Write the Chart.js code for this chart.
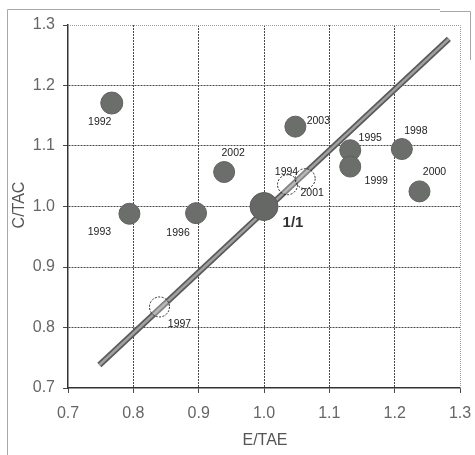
<!DOCTYPE html>
<html>
<head>
<meta charset="utf-8">
<script src="https://cdn.jsdelivr.net/npm/chart.js@4.4.1/dist/chart.umd.min.js"></script>
<style>
html,body{margin:0;padding:0;background:#fff;}
#wrap{position:relative;width:475px;height:455px;}
</style>
</head>
<body>
<div id="wrap"><canvas id="c" width="475" height="455"></canvas></div>
<script>
// ---- data ----
const yearLabels = ['1992','1993','1996','2002','2003','1995','1999','1998','2000'];
const eTae       = [0.767, 0.794, 0.896, 0.939, 1.048, 1.132, 1.132, 1.211, 1.238];
const cTac       = [1.171, 0.988, 0.989, 1.057, 1.132, 1.093, 1.066, 1.095, 1.025];

const openLabels = ['1994','2001','1997'];
const openE      = [1.036, 1.063, 0.840];
const openC      = [1.036, 1.046, 0.834];

const refLabel = '1/1';
const refE = [1.0];
const refC = [1.0];

const lineE = [0.748, 1.283];
const lineC = [0.738, 1.277];

const tickValues = [0.7, 0.8, 0.9, 1.0, 1.1, 1.2, 1.3];
const xTitle = 'E/TAE';
const yTitle = 'C/TAC';

// ---- label placement (pixels, relative to point) ----
const yearOffsets = [[-12,19],[-30,18],[-18,20],[9,-19],[23,-6],[20,-12],[26,15],[14,-18],[15,-19]];
const openOffsets = [[-1,-13],[7,14],[20,17]];
const refOffset = [29,16];

const toPts = (xs, ys) => xs.map((x,i)=>({x:x, y:ys[i]}));

const FONT = "'Liberation Sans', Arial, sans-serif";

const overlay = {
  id:'overlay',
  beforeDraw(chart){
    const ctx = chart.ctx;
    ctx.save();
    ctx.strokeStyle = '#a8a8a8';
    ctx.lineWidth = 1;
    ctx.beginPath();
    ctx.moveTo(7.5, 455); ctx.lineTo(7.5, 9.5); ctx.lineTo(440, 9.5);
    ctx.moveTo(440, 11.5); ctx.lineTo(470.5, 11.5); ctx.lineTo(470.5, 60);
    ctx.stroke();
    ctx.restore();
  },
  afterDatasetsDraw(chart){
    const ctx = chart.ctx;
    const a = chart.chartArea;
    ctx.save();
    // right/top dotted plot border
    ctx.strokeStyle = '#9a9a9a';
    ctx.setLineDash([1,1]);
    ctx.lineWidth = 1;
    ctx.beginPath();
    ctx.moveTo(a.left, a.top+0.5); ctx.lineTo(a.right+0.5, a.top+0.5); ctx.lineTo(a.right+0.5, a.bottom);
    ctx.stroke();
    // open rings
    const om = chart.getDatasetMeta(3);
    ctx.setLineDash([2,1.5]);
    ctx.strokeStyle = '#222';
    ctx.lineWidth = 1;
    om.data.forEach(el=>{
      ctx.beginPath();
      ctx.arc(el.x, el.y, 10, 0, Math.PI*2);
      ctx.fillStyle = 'rgba(255,255,255,0.25)';
      ctx.fill();
      ctx.stroke();
    });
    ctx.setLineDash([]);
    // labels
    ctx.fillStyle = '#222';
    ctx.textAlign = 'center';
    ctx.textBaseline = 'middle';
    ctx.font = '10.5px ' + FONT;
    chart.getDatasetMeta(2).data.forEach((el,i)=>{
      ctx.fillText(yearLabels[i], el.x + yearOffsets[i][0], el.y + yearOffsets[i][1]);
    });
    om.data.forEach((el,i)=>{
      ctx.fillText(openLabels[i], el.x + openOffsets[i][0], el.y + openOffsets[i][1]);
    });
    const rm = chart.getDatasetMeta(4).data[0];
    ctx.font = 'bold 15px ' + FONT;
    ctx.fillStyle = '#333';
    ctx.fillText(refLabel, rm.x + refOffset[0], rm.y + refOffset[1]);
    // axis titles
    ctx.font = '16px ' + FONT;
    ctx.fillStyle = '#555';
    ctx.fillText(xTitle, 265, 441);
    ctx.save();
    ctx.translate(20, 205);
    ctx.rotate(-Math.PI/2);
    ctx.fillText(yTitle, 0, 0);
    ctx.restore();
    ctx.restore();
  }
};

const gridColor = (ctx) => {
  const v = ctx.tick ? ctx.tick.value : null;
  if (v !== null && (Math.abs(v-0.7)<1e-6 || Math.abs(v-1.3)<1e-6)) return 'rgba(0,0,0,0)';
  return '#4a4a4a';
};

new Chart(document.getElementById('c'), {
  type:'scatter',
  data:{
    datasets:[
      { type:'line', data: toPts(lineE, lineC), borderColor:'#5a5a5a', borderWidth:6, pointRadius:0, order:5, borderCapStyle:'butt' },
      { type:'line', data: toPts(lineE, lineC), borderColor:'#a0a0a0', borderWidth:2.5, pointRadius:0, order:4, borderCapStyle:'butt' },
      { data: toPts(eTae, cTac), pointRadius:[11,10.5,10.5,10.5,10.5,10.5,10.5,10.5,10.5], backgroundColor:'#6b6e6b', borderColor:'#5f625f', borderWidth:1, order:2 },
      { data: toPts(openE, openC), pointRadius:0, order:1 },
      { data: toPts(refE, refC), pointRadius:14, backgroundColor:'#656865', borderColor:'#5a5d5a', borderWidth:1, order:1 }
    ]
  },
  options:{
    responsive:false,
    animation:false,
    events:[],
    layout:{ padding:{ top:25, right:12, left:0, bottom:0 } },
    plugins:{ legend:{display:false}, tooltip:{enabled:false} },
    scales:{
      x:{
        type:'linear', min:0.7, max:1.3,
        afterBuildTicks(s){ s.ticks = tickValues.map(v=>({value:v})); },
        afterFit(s){ s.height = 67; s.paddingRight = 0; s.paddingLeft = 0; },
        grid:{ color: gridColor, tickLength:5, tickColor:'#4a4a4a', lineWidth:1 },
        border:{ display:true, color:'#333', dash:[2,1], width:1.5 },
        ticks:{ padding:11, color:'#666', font:{ family:FONT, size:16 }, maxRotation:0,
                callback:(v)=>Number(v).toFixed(1) }
      },
      y:{
        type:'linear', min:0.7, max:1.3,
        afterBuildTicks(s){ s.ticks = tickValues.map(v=>({value:v})); },
        afterFit(s){ s.width = 68; s.paddingTop = 0; s.paddingBottom = 0; },
        grid:{ color: gridColor, tickLength:5, tickColor:'#4a4a4a', lineWidth:1 },
        border:{ display:true, color:'#333', dash:[2,1], width:1.5 },
        ticks:{ padding:8, color:'#666', font:{ family:FONT, size:16 },
                callback:(v)=>Number(v).toFixed(1) }
      }
    }
  },
  plugins:[overlay]
});
</script>
</body>
</html>
